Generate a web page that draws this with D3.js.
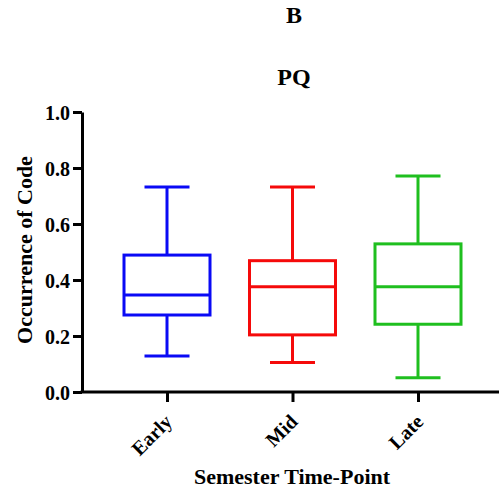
<!DOCTYPE html>
<html>
<head>
<meta charset="utf-8">
<script src="https://cdn.jsdelivr.net/npm/d3@7"></script>
<style>
  body { margin: 0; background: #fff; }
  svg text { font-family: "Liberation Serif", Tinos, "Times New Roman", Times, "Nimbus Roman", "DejaVu Serif", serif !important; font-weight: bold; }
</style>
</head>
<body>
<svg id="chart"></svg>
<script>
// data
var categories = ["Early", "Mid", "Late"];
var whiskerHigh = [0.732, 0.732, 0.771];
var upperQuartile = [0.489, 0.469, 0.529];
var medians = [0.346, 0.376, 0.376];
var lowerQuartile = [0.275, 0.204, 0.242];
var whiskerLow = [0.129, 0.105, 0.051];
var yTicks = [0, 0.2, 0.4, 0.6, 0.8, 1.0];
var colors = ["#0a0af5", "#f50a0a", "#1fbf1f"];

var width = 499, height = 493;

var svg = d3.select("#chart")
  .attr("width", width)
  .attr("height", height);

// scales
var x = d3.scalePoint().domain(categories).range([167, 418]);
var y = d3.scaleLinear().domain([0, 1]).range([392, 112]);

var boxW = 86, capW = 45;

// y axis
var yAxis = svg.append("g")
  .attr("transform", "translate(82,0)")
  .call(d3.axisLeft(y).tickValues(yTicks).tickFormat(d3.format(".1f")).tickSize(9).tickSizeOuter(0).tickPadding(3));
yAxis.attr("font-family", null);
yAxis.select(".domain").attr("stroke", "#000").attr("stroke-width", 3);
yAxis.selectAll(".tick line").attr("stroke", "#000").attr("stroke-width", 3);
yAxis.selectAll(".tick text").attr("fill", "#000").style("font-size", "20px").attr("dy", "0.35em");

// x axis
var xAxis = svg.append("g")
  .attr("transform", "translate(0,392)")
  .call(d3.axisBottom(x).tickSize(10).tickSizeOuter(0));
xAxis.attr("font-family", null);
xAxis.select(".domain").remove();
xAxis.append("line")
  .attr("x1", 80.5).attr("x2", 499)
  .attr("stroke", "#000").attr("stroke-width", 3);
xAxis.selectAll(".tick line").attr("stroke", "#000").attr("stroke-width", 3);
xAxis.selectAll(".tick text")
  .attr("fill", "#000")
  .style("font-size", "20px")
  .attr("text-anchor", "end")
  .attr("transform", "translate(1,26) rotate(-45)")
  .attr("dy", "0.35em")
  .attr("y", 0);

// boxes
var boxes = svg.append("g")
  .selectAll("g")
  .data(categories)
  .enter()
  .append("g")
  .attr("stroke", function (d, i) { return colors[i]; })
  .attr("stroke-width", 3)
  .attr("fill", "none");

// whiskers
boxes.append("line")
  .attr("x1", function (d) { return x(d); })
  .attr("x2", function (d) { return x(d); })
  .attr("y1", function (d, i) { return y(whiskerHigh[i]); })
  .attr("y2", function (d, i) { return y(upperQuartile[i]); });
boxes.append("line")
  .attr("x1", function (d) { return x(d); })
  .attr("x2", function (d) { return x(d); })
  .attr("y1", function (d, i) { return y(lowerQuartile[i]); })
  .attr("y2", function (d, i) { return y(whiskerLow[i]); });

// caps
boxes.append("line")
  .attr("x1", function (d) { return x(d) - capW / 2; })
  .attr("x2", function (d) { return x(d) + capW / 2; })
  .attr("y1", function (d, i) { return y(whiskerHigh[i]); })
  .attr("y2", function (d, i) { return y(whiskerHigh[i]); });
boxes.append("line")
  .attr("x1", function (d) { return x(d) - capW / 2; })
  .attr("x2", function (d) { return x(d) + capW / 2; })
  .attr("y1", function (d, i) { return y(whiskerLow[i]); })
  .attr("y2", function (d, i) { return y(whiskerLow[i]); });

// box
boxes.append("rect")
  .attr("x", function (d) { return x(d) - boxW / 2; })
  .attr("width", boxW)
  .attr("y", function (d, i) { return y(upperQuartile[i]); })
  .attr("height", function (d, i) { return y(lowerQuartile[i]) - y(upperQuartile[i]); });

// median
boxes.append("line")
  .attr("x1", function (d) { return x(d) - boxW / 2; })
  .attr("x2", function (d) { return x(d) + boxW / 2; })
  .attr("y1", function (d, i) { return y(medians[i]); })
  .attr("y2", function (d, i) { return y(medians[i]); });

// titles
svg.append("text")
  .attr("x", 294).attr("y", 23)
  .attr("text-anchor", "middle")
  .style("font-size", "24px")
  .text("B");
svg.append("text")
  .attr("x", 294).attr("y", 85)
  .attr("text-anchor", "middle")
  .style("font-size", "24px")
  .text("PQ");

// axis titles
svg.append("text")
  .attr("x", 292).attr("y", 484)
  .attr("text-anchor", "middle")
  .style("font-size", "22px")
  .text("Semester Time-Point");
svg.append("text")
  .attr("transform", "translate(32,250) rotate(-90)")
  .attr("text-anchor", "middle")
  .style("font-size", "22px")
  .text("Occurrence of Code");
</script>
</body>
</html>
